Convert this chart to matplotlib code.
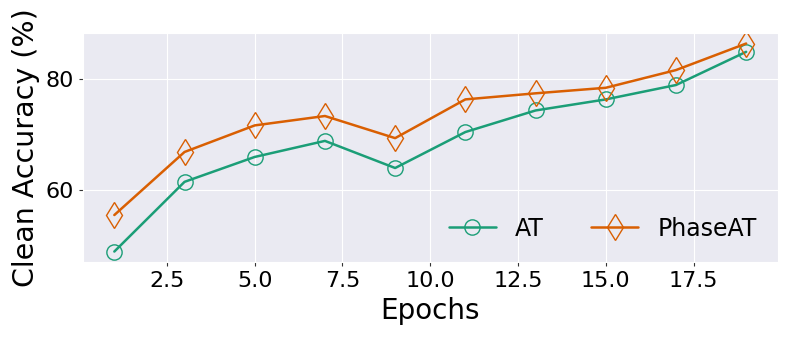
import numpy as np
import matplotlib
matplotlib.use("Agg")
import matplotlib.pyplot as plt
import seaborn as sns

sns.set_style("darkgrid")
plt.rcParams['font.family'] = ['DejaVu Sans']
plt.rcParams['text.color'] = 'black'
plt.rcParams['axes.labelcolor'] = 'black'
plt.rcParams['xtick.color'] = 'black'
plt.rcParams['ytick.color'] = 'black'

epochs = [1, 3, 5, 7, 9, 11, 13, 15, 17, 19]
acc_at = [48.8, 61.4, 65.9, 68.8, 63.9, 70.4, 74.3, 76.3, 78.9, 84.9]
acc_phaseat = [55.4, 66.8, 71.6, 73.3, 69.3, 76.3, 77.4, 78.4, 81.6, 86.4]

colors = sns.color_palette("Dark2", 2)

fig, ax = plt.subplots(figsize=(7.88, 3.38), dpi=100)
ax.plot(epochs, acc_at, marker='o', fillstyle='none', markersize=11,
        color=colors[0], linewidth=1.8, label='AT')
ax.plot(epochs, acc_phaseat, marker='d', fillstyle='none', markersize=13,
        color=colors[1], linewidth=1.8, label='PhaseAT')

ax.set_yticks([60, 80])
ax.tick_params(labelsize=16, bottom=True, left=True, length=3, width=0.8,
               color='#333333')
ax.set_xlabel('Epochs', fontsize=20)
ax.set_ylabel('Clean Accuracy (%)', fontsize=20.5)
ax.legend(loc='lower right', ncol=2, fontsize=17, frameon=False,
          handlelength=2.0, columnspacing=2.0)

plt.subplots_adjust(left=0.105, right=0.987, top=0.902, bottom=0.225)
fig.savefig('out.png', dpi=100)
